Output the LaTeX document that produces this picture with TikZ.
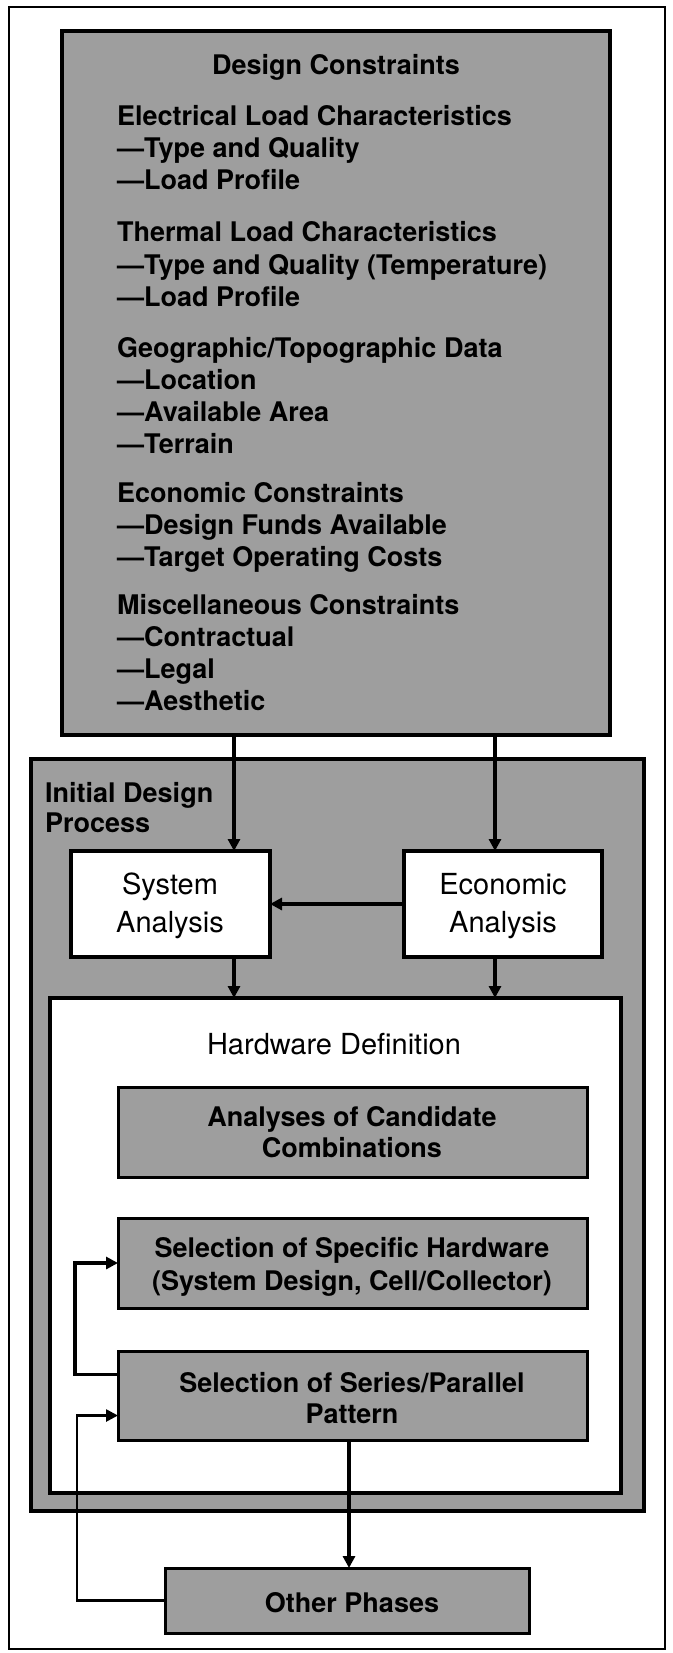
\documentclass[tikz,border=0pt]{standalone}
\usepackage{fontspec}
\setmainfont{TeX Gyre Heros}
\usetikzlibrary{arrows.meta}
\definecolor{halftone}{gray}{0.62}
\begin{document}
\begin{tikzpicture}[x=1pt,y=-1pt,
  box/.style={draw, line width=3.5pt, anchor=north west, inner sep=0pt, outer sep=0pt},
  graybox/.style={box, fill=halftone},
  whitebox/.style={box, fill=white},
  bt/.style={font=\bfseries\fontsize{27}{32}\selectfont, inner sep=0pt, anchor=base west},
  btc/.style={bt, anchor=base},
  rt/.style={font=\fontsize{29}{34}\selectfont, inner sep=0pt, anchor=base},
  arr/.style={line width=3.2pt, -{Triangle[length=12pt,width=12pt]}},
  fb/.style={line width=3.5pt, -{Triangle[length=12pt,width=12pt]}},
  fbthin/.style={line width=2.6pt, -{Triangle[length=12pt,width=12pt]}}
]
\useasboundingbox (0,0) rectangle (672,1653);
% outer frame
\node[draw, line width=1.8pt, anchor=north west, inner sep=0pt, minimum width=656pt, minimum height=1642pt] (frame) at (8,6) {};

% Design constraints
\node[graybox, minimum width=548pt, minimum height=704pt] (dc) at (62,31) {};
\node[btc] (dct) at (336,75) {Design Constraints};
\node[bt] (g1a) at (117,126) {Electrical Load Characteristics};
\node[bt] (g1b) at (117,158) {—Type and Quality};
\node[bt] (g1c) at (117,190) {—Load Profile};
\node[bt] (g2a) at (117,242) {Thermal Load Characteristics};
\node[bt] (g2b) at (117,274) {—Type and Quality (Temperature)};
\node[bt] (g2c) at (117,306) {—Load Profile};
\node[bt] (g3a) at (117,357) {Geographic/Topographic Data};
\node[bt] (g3b) at (117,389) {—Location};
\node[bt] (g3c) at (117,421) {—Available Area};
\node[bt] (g3d) at (117,453) {—Terrain};
\node[bt] (g4a) at (117,502) {Economic Constraints};
\node[bt] (g4b) at (117,534) {—Design Funds Available};
\node[bt] (g4c) at (117,566) {—Target Operating Costs};
\node[bt] (g5a) at (117,614) {Miscellaneous Constraints};
\node[bt] (g5b) at (117,646) {—Contractual};
\node[bt] (g5c) at (117,678) {—Legal};
\node[bt] (g5d) at (117,710) {—Aesthetic};

% Initial design process
\node[graybox, line width=4pt, minimum width=613pt, minimum height=752pt] (idp) at (31,759) {};
\node[bt] (idp1) at (45,802) {Initial Design};
\node[bt] (idp2) at (45,832) {Process};

\node[whitebox, line width=4pt, minimum width=199pt, minimum height=106pt] (sys) at (71,851) {};
\node[rt] (sys1) at (170,894) {System};
\node[rt] (sys2) at (170,932) {Analysis};
\node[whitebox, line width=4pt, minimum width=198pt, minimum height=106pt] (eco) at (404,851) {};
\node[rt] (eco1) at (503,894) {Economic};
\node[rt] (eco2) at (503,932) {Analysis};

\node[whitebox, line width=4pt, minimum width=571pt, minimum height=495pt] (hw) at (50,998) {};
\node[rt] (hwt) at (334,1054) {Hardware Definition};

\node[graybox, line width=3pt, minimum width=469pt, minimum height=90pt] (ana) at (118,1087) {};
\node[btc] (ana1) at (352,1126) {Analyses of Candidate};
\node[btc] (ana2) at (352,1157) {Combinations};

\node[graybox, line width=3pt, minimum width=469pt, minimum height=90pt] (spec) at (118,1218) {};
\node[btc] (spec1) at (352,1257) {Selection of Specific Hardware};
\node[btc] (spec2) at (352,1290) {(System Design, Cell/Collector)};

\node[graybox, line width=3pt, minimum width=469pt, minimum height=89pt] (ser) at (118,1351) {};
\node[btc] (ser1) at (352,1392) {Selection of Series/Parallel};
\node[btc] (ser2) at (352,1423) {Pattern};

\node[graybox, line width=3pt, minimum width=364pt, minimum height=65pt] (oth) at (165,1568) {};
\node[btc] (otht) at (352,1612) {Other Phases};

% helper x positions
\coordinate (xL) at (234,0);
\coordinate (xR) at (495,0);
\coordinate (xD) at (349,0);

% connectors
\draw[arr] (dc.south -| xL) -- (sys.north -| xL);
\draw[arr] (dc.south -| xR) -- (eco.north -| xR);
\draw[arr] (eco.west) -- (sys.east);
\draw[arr] (sys.south -| xL) -- (hw.north -| xL);
\draw[arr] (eco.south -| xR) -- (hw.north -| xR);
\draw[fb] ([yshift=21pt]ser.west) -- ++(-43,0) |- (spec.west);
\draw[arr, line width=3.5pt] (ser.south -| xD) -- (oth.north -| xD);
\draw[fbthin] (oth.west) -- ++(-88,0) |- ([yshift=-20pt]ser.west);
\end{tikzpicture}
\end{document}
